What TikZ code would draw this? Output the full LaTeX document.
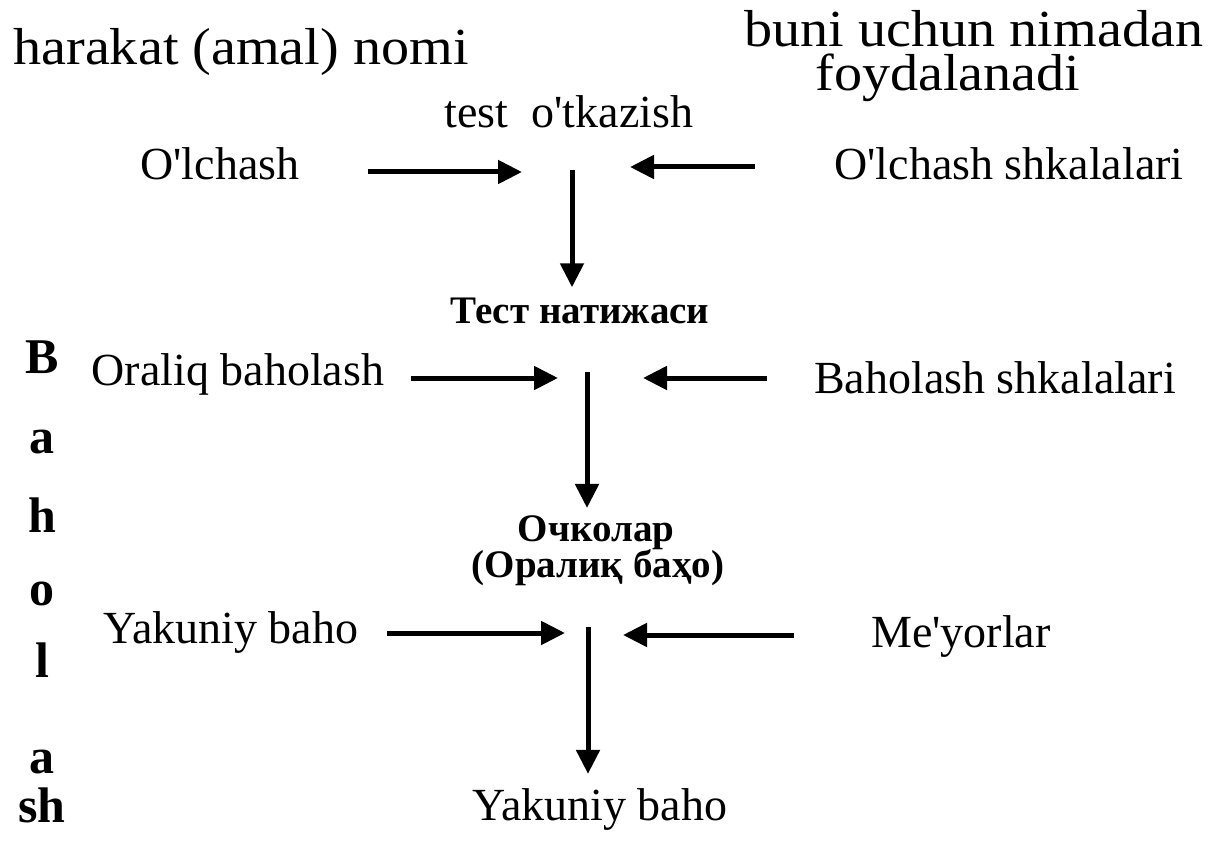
\documentclass[tikz,border=0pt]{standalone}
\usepackage{fontspec}
\setmainfont{Liberation Serif}
\newfontfamily\widefont[FakeStretch=1.08]{Liberation Serif}
\usetikzlibrary{arrows.meta}
\newcommand\apo{\textquotesingle}

\begin{document}
\begin{tikzpicture}[x=1pt,y=-1pt,
  lbl/.style={inner sep=0pt,anchor=base,font=\fontsize{46}{50}\selectfont},
  ttl/.style={inner sep=0pt,anchor=base,font=\widefont\fontsize{52}{44}\selectfont},
  cyr/.style={inner sep=0pt,anchor=base,font=\fontsize{39}{42}\selectfont\bfseries},
  vlet/.style={inner sep=0pt,anchor=base,font=\fontsize{50}{54}\selectfont\bfseries},
  arr/.style={-{Triangle[length=24pt,width=23pt]},line width=5pt}]
  \useasboundingbox (0,0) rectangle (1218,845);
  % headings
  \node[ttl] (hname) at (241,65) {harakat (amal) nomi};
  \node[ttl,anchor=north,align=center] (huse) at (974,10)
    {buni uchun nimadan\\foydalanadi\hspace*{52pt}};
  % vertical word
  \foreach \c/\yy [count=\i] in {B/373,a/453,h/532,o/605,l/677,a/773,sh/822}
    \node[vlet] (v\i) at (42,\yy) {\c};
  % step 1
  \node[lbl] (test) at (569,128) {test\ \ o\apo tkazish};
  \node[lbl] (olch) at (220,180) {O\apo lchash};
  \node[lbl] (olchsh) at (1009,180) {O\apo lchash shkalalari};
  \node[cyr] (tnat) at (580,323) {Тест натижаси};
  \coordinate (d1) at (572,170);
  \draw[arr,shorten <=68pt,shorten >=50pt] ([yshift=8pt]olch.base east) -- ([yshift=8pt]olch.base east -| d1);
  \draw[arr,shorten <=79pt,shorten >=58pt] ([yshift=13pt]olchsh.base west) -- ([yshift=13pt]olchsh.base west -| d1);
  \draw[arr,shorten >=10pt] (d1) -- (d1 |- tnat.north);
  % step 2
  \node[lbl] (orb) at (238,385) {Oraliq baholash};
  \node[lbl] (bsh) at (995,393) {Baholash shkalalari};
  \node[cyr] (ochk1) at (596,541) {Очколар};
  \node[cyr] (ochk2) at (598,577) {(Оралиқ баҳо)};
  \coordinate (d2) at (587,372);
  \draw[arr,shorten <=27pt,shorten >=29pt] ([yshift=7pt]orb.base east) -- ([yshift=7pt]orb.base east -| d2);
  \draw[arr,shorten <=47pt,shorten >=56pt] ([yshift=15pt]bsh.base west) -- ([yshift=15pt]bsh.base west -| d2);
  \draw[arr,shorten >=7pt] (d2) -- (d2 |- ochk1.north);
  % step 3
  \node[lbl] (yak1) at (231,643) {Yakuniy baho};
  \node[lbl] (meyor) at (961,647) {Me\apo yorlar};
  \node[lbl] (yak2) at (600,820) {Yakuniy baho};
  \coordinate (d3) at (588,627);
  \draw[arr,shorten <=28pt,shorten >=23pt] ([yshift=10pt]yak1.base east) -- ([yshift=10pt]yak1.base east -| d3);
  \draw[arr,shorten <=77pt,shorten >=35pt] ([yshift=12pt]meyor.base west) -- ([yshift=12pt]meyor.base west -| d3);
  \draw[arr,shorten >=14pt] (d3) -- (d3 |- yak2.north);
\end{tikzpicture}
\end{document}
